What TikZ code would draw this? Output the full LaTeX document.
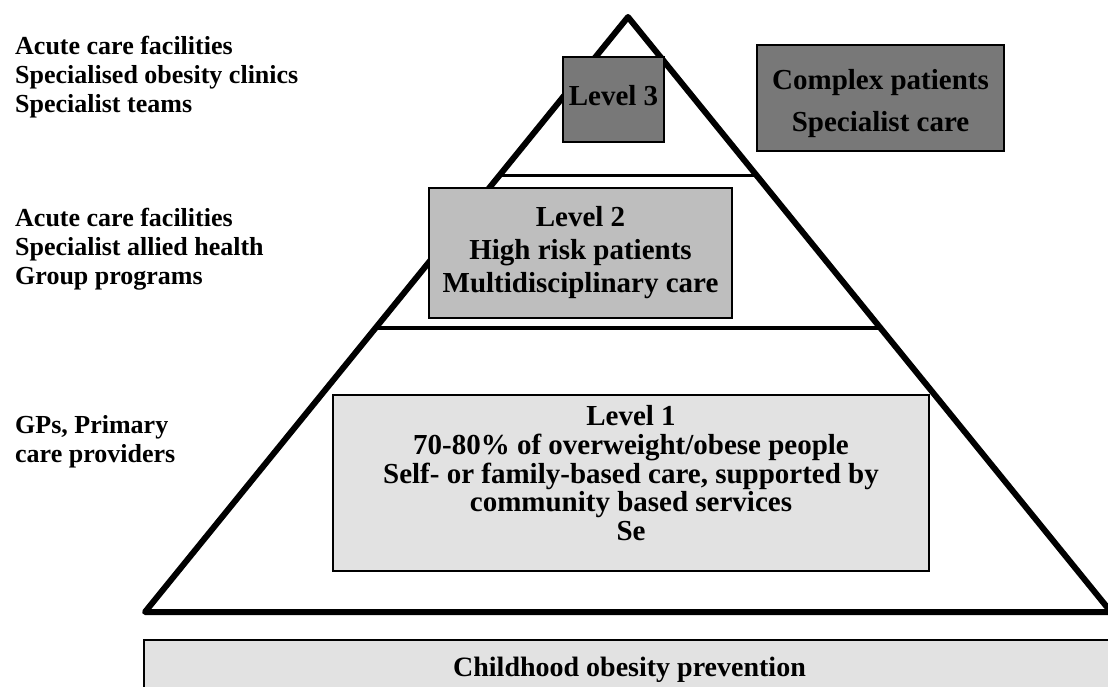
\documentclass[tikz,border=0pt]{standalone}
\usepackage{fontspec}
\setmainfont{Liberation Serif}
\usetikzlibrary{calc}
\definecolor{grisfonce}{RGB}{120,120,120}
\definecolor{grismoyen}{RGB}{190,190,190}
\definecolor{grisclair}{RGB}{226,226,226}
\tikzset{
  boite/.style={draw=black,line width=1.5pt,inner sep=0pt,align=center,
    font=\bfseries\fontsize{29}{33}\selectfont},
  legende/.style={anchor=west,align=left,inner sep=0pt,
    font=\bfseries\fontsize{26}{29}\selectfont},
}
\begin{document}
\begin{tikzpicture}[x=1pt,y=-1pt]
\useasboundingbox (0,0) rectangle (1108,686);

\coordinate (sommet) at (628,17);
\coordinate (gauche) at (145,612);
\coordinate (droite) at (1111,612);

\draw[line width=6pt,line join=round] (gauche)--(sommet)--(droite)--cycle;
\draw[line width=3pt] ($(sommet)!0.267!(gauche)$)--($(sommet)!0.267!(droite)$);
\draw[line width=4pt] ($(sommet)!0.523!(gauche)$)--($(sommet)!0.523!(droite)$);

\node[boite,fill=grisfonce,minimum width=101pt,minimum height=85pt] (niveau3) at (613.5,99.5) {\raisebox{4pt}[\height][\depth]{Level 3}};
\node[boite,fill=grisfonce,minimum width=247pt,minimum height=106pt] (complexe) at (880.5,98) {\raisebox{-6pt}[\height][\depth]{\begin{tabular}{@{}c@{}}Complex patients\\[9pt]Specialist care\end{tabular}}};
\node[boite,fill=grismoyen,minimum width=303pt,minimum height=130pt] (niveau2) at (580.5,253) {Level 2\\High risk patients\\Multidisciplinary care};
\node[boite,fill=grisclair,minimum width=596pt,minimum height=176pt] (niveau1) at (631,483) {\raisebox{6pt}[\height][\depth]{\fontsize{29}{28.5}\selectfont\begin{tabular}{@{}c@{}}Level 1\\70-80\% of overweight/obese people\\Self- or family-based care, supported by\\community based services\\Se\end{tabular}}};
\node[boite,fill=grisclair,minimum width=971pt,minimum height=60pt,font=\bfseries\fontsize{28}{32}\selectfont] (prevention) at (629.5,670) {Childhood obesity prevention};

\node[legende] (soins3) at (15,77) {Acute care facilities\\Specialised obesity clinics\\Specialist teams};
\node[legende] (soins2) at (15,249) {Acute care facilities\\Specialist allied health\\Group programs};
\node[legende] (soins1) at (15,442) {GPs, Primary\\care providers};
\end{tikzpicture}
\end{document}
